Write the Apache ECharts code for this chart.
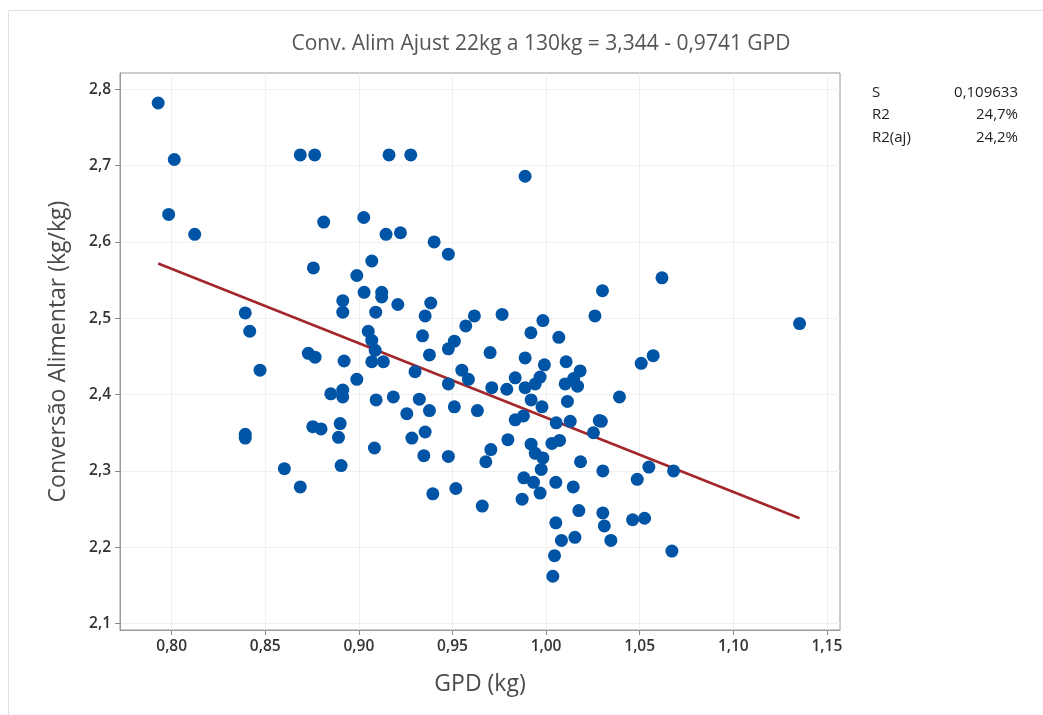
<!DOCTYPE html>
<html>
<head>
<meta charset="utf-8">
<script src="https://cdn.jsdelivr.net/npm/echarts@6/dist/echarts.min.js"></script>
<style>
  html, body { margin: 0; padding: 0; background: #fff; }
  #chart { width: 1043px; height: 715px; }
</style>
</head>
<body>
<div id="chart"></div>
<script>
// GPD (kg) x Conversão Alimentar (kg/kg)
var gpd = [
  0.7928, 0.8014, 0.7984, 0.8123, 0.8687, 0.8764, 0.8812, 0.9026, 0.8757, 0.9069,
  0.9161, 0.9277, 0.9888, 0.9145, 0.9222, 0.9402, 0.9478, 1.0619, 1.0301, 1.0261,
  1.1354, 1.0508, 1.0572, 1.0392, 1.0295, 1.0303, 1.0549, 1.0681, 1.0487, 1.0303,
  1.0311, 1.0346, 1.0462, 1.0526, 1.0672, 0.9083, 0.9283, 0.9347, 0.9478, 0.9705,
  0.9678, 0.9796, 0.9920, 0.9942, 0.9983, 0.9974, 1.0031, 1.0072, 1.0184, 0.9395,
  0.9518, 0.9659, 0.9881, 0.9933, 0.9968, 0.9872, 1.0052, 1.0145, 1.0175, 1.0052,
  1.0082, 1.0154, 1.0045, 1.0036, 0.8393, 0.8393, 0.8602, 0.8687, 0.8905, 0.8989,
  0.9028, 0.8914, 0.8914, 0.8393, 0.8417, 0.9050, 0.8730, 0.8766, 0.8921, 0.8472,
  0.8989, 0.8850, 0.8914, 0.8914, 0.8754, 0.8798, 0.8900, 0.8891, 0.9122, 0.9122,
  0.9208, 0.9384, 0.9090, 0.9354, 0.9617, 0.9571, 0.9765, 0.9983, 0.9919, 1.0068,
  0.9340, 0.9510, 0.9478, 0.9069, 0.9087, 0.9069, 0.9131, 0.9377, 0.9300, 0.9701,
  0.9550, 0.9585, 0.9478, 0.9710, 0.9790, 0.9835, 0.9888, 0.9888, 0.9942, 0.9968,
  0.9991, 0.9920, 0.9978, 1.0107, 1.0182, 1.0102, 1.0147, 1.0168, 1.0114, 1.0129,
  1.0054, 1.0284, 1.0253, 0.9092, 0.9184, 0.9323, 0.9377, 0.9256, 0.9510, 0.9633,
  0.9354, 0.9835, 0.9879
];
var conv = [
  2.782, 2.708, 2.636, 2.610, 2.714, 2.714, 2.626, 2.632, 2.566, 2.575,
  2.714, 2.714, 2.686, 2.610, 2.612, 2.600, 2.584, 2.553, 2.536, 2.503,
  2.493, 2.441, 2.451, 2.397, 2.365, 2.300, 2.305, 2.300, 2.289, 2.245,
  2.228, 2.209, 2.236, 2.238, 2.195, 2.330, 2.343, 2.320, 2.319, 2.328,
  2.312, 2.341, 2.335, 2.323, 2.317, 2.302, 2.336, 2.340, 2.312, 2.270,
  2.277, 2.254, 2.291, 2.285, 2.271, 2.263, 2.285, 2.279, 2.248, 2.232,
  2.209, 2.213, 2.189, 2.162, 2.348, 2.343, 2.303, 2.279, 2.307, 2.556,
  2.534, 2.523, 2.508, 2.507, 2.483, 2.483, 2.454, 2.449, 2.444, 2.432,
  2.420, 2.401, 2.406, 2.397, 2.358, 2.355, 2.362, 2.344, 2.534, 2.528,
  2.518, 2.520, 2.508, 2.503, 2.503, 2.490, 2.505, 2.497, 2.481, 2.475,
  2.477, 2.470, 2.460, 2.471, 2.458, 2.443, 2.443, 2.452, 2.430, 2.455,
  2.432, 2.420, 2.414, 2.409, 2.407, 2.422, 2.448, 2.409, 2.414, 2.423,
  2.439, 2.393, 2.384, 2.443, 2.431, 2.414, 2.421, 2.411, 2.391, 2.365,
  2.363, 2.366, 2.350, 2.393, 2.397, 2.394, 2.379, 2.375, 2.384, 2.379,
  2.351, 2.367, 2.372
];

// reta ajustada: Conv = 3,344 - 0,9741 GPD
var coef = [3.344, -0.9741];
var xTicks = [0.80, 0.85, 0.90, 0.95, 1.00, 1.05, 1.10, 1.15];
var yTicks = [2.1, 2.2, 2.3, 2.4, 2.5, 2.6, 2.7, 2.8];
var statNames = ['S', 'R2', 'R2(aj)'];
var statValues = ['0,109633', '24,7%', '24,2%'];

var points = [];
for (var i = 0; i < gpd.length; i++) {
  points.push([gpd[i], conv[i]]);
}
var xLo = Math.min.apply(null, gpd);
var xHi = Math.max.apply(null, gpd);
var fitLine = [
  [xLo, coef[0] + coef[1] * xLo],
  [xHi, coef[0] + coef[1] * xHi]
];

var font = "'Open Sans', 'Noto Sans', sans-serif";

var statGraphics = [];
for (var k = 0; k < statNames.length; k++) {
  var yy = 95 + k * 22.5;
  statGraphics.push({
    type: 'text', left: 872, top: yy - 10,
    style: { text: statNames[k], fill: '#222', font: '15px ' + font }
  });
  statGraphics.push({
    type: 'text', right: 25, top: yy - 10,
    style: { text: statValues[k], fill: '#222', font: '15px ' + font, textAlign: 'right' }
  });
}

var chart = echarts.init(document.getElementById('chart'));
chart.setOption({
  backgroundColor: '#fff',
  animation: false,
  title: {
    text: 'Conv. Alim Ajust 22kg a 130kg = 3,344 - 0,9741 GPD',
    left: 536,
    top: 29,
    textAlign: 'center',
    textStyle: { fontFamily: font, fontSize: 21, fontWeight: 'normal', color: '#555' }
  },
  graphic: [{
    type: 'rect',
    shape: { x: 8.5, y: 10.5, width: 1100, height: 800 },
    style: { fill: 'none', stroke: '#e0e0e0', lineWidth: 1 },
    silent: true
  }].concat(statGraphics),
  grid: {
    left: 120, top: 73, right: 203, bottom: 85,
    show: true, borderColor: '#9a9a9a', borderWidth: 1
  },
  xAxis: {
    type: 'value',
    min: 0.7724, max: 1.157,
    name: 'GPD (kg)',
    nameLocation: 'middle',
    nameGap: 43,
    nameTextStyle: { fontFamily: font, fontSize: 23, fontWeight: 500, color: '#4a4a4a' },
    axisLine: { show: true, lineStyle: { color: '#9a9a9a' } },
    axisTick: { show: true, customValues: xTicks, length: 5, lineStyle: { color: '#888' } },
    axisLabel: {
      customValues: xTicks, margin: 9,
      fontFamily: font, fontSize: 15.5, fontWeight: 600, color: '#333',
      formatter: function (v) { return v.toFixed(2).replace('.', ','); }
    },
    splitLine: { show: true, lineStyle: { color: '#f0f0f0' } }
  },
  yAxis: {
    type: 'value',
    min: 2.0916, max: 2.8213,
    name: 'Conversão Alimentar (kg/kg)',
    nameLocation: 'middle',
    nameGap: 50,
    nameTextStyle: { fontFamily: font, fontSize: 23, fontWeight: 500, color: '#4a4a4a' },
    axisLine: { show: true, lineStyle: { color: '#9a9a9a' } },
    axisTick: { show: true, customValues: yTicks, length: 5, lineStyle: { color: '#888' } },
    axisLabel: {
      customValues: yTicks, margin: 9,
      fontFamily: font, fontSize: 15.5, fontWeight: 600, color: '#333',
      formatter: function (v) { return v.toFixed(1).replace('.', ','); }
    },
    splitLine: { show: true, lineStyle: { color: '#f0f0f0' } }
  },
  series: [{
    type: 'line',
    data: fitLine,
    symbol: 'none',
    lineStyle: { color: '#a3262a', width: 2.5 },
    z: 2
  }, {
    type: 'scatter',
    data: points,
    symbol: 'circle',
    symbolSize: 13,
    itemStyle: { color: '#0054a6', opacity: 1 },
    z: 3
  }]
});
</script>
</body>
</html>
